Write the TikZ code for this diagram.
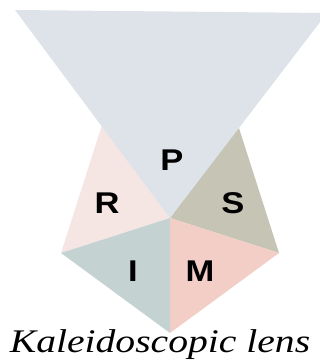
\documentclass[tikz,border=0pt]{standalone}
\usepackage{fontspec}
\setmainfont{Liberation Serif}
\newfontfamily\letterfont{Liberation Sans}
\usepackage{graphicx}
\definecolor{colP}{RGB}{221,227,233}
\definecolor{colR}{RGB}{245,230,228}
\definecolor{colS}{RGB}{197,196,181}
\definecolor{colI}{RGB}{196,210,210}
\definecolor{colM}{RGB}{242,206,198}

\begin{document}
\begin{tikzpicture}[x=1pt,y=-1pt,
   letter/.style={inner sep=0pt,font=\letterfont\bfseries\fontsize{30}{30}\selectfont},
   caption/.style={inner sep=0pt,anchor=base,font=\itshape\fontsize{33}{33}\selectfont}]
  \useasboundingbox (0,0) rectangle (320,362);
  % pentagon corners and centre
  \coordinate (c) at (170,218);
  \coordinate (v1) at (102,125);
  \coordinate (v2) at (238,125);
  \coordinate (v3) at (279,253);
  \coordinate (v4) at (170,333);
  \coordinate (v5) at (61,253);
  \coordinate (tl) at (15,10);
  \coordinate (tr) at (327,13);
  \fill[colR] (c)--(v5)--(v1)--cycle;
  \fill[colS] (c)--(v2)--(v3)--cycle;
  \fill[colM] (c)--(v3)--(v4)--cycle;
  \fill[colI] (c)--(v4)--(v5)--cycle;
  \fill[colP] (c)--(tl)--(tr)--cycle;
  \node[letter] (p) at (172,160) {\scalebox{1.15}[1]{P}};
  \node[letter] (r) at (107,203) {\scalebox{1.15}[1]{R}};
  \node[letter] (s) at (233,203) {\scalebox{1.15}[1]{S}};
  \node[letter] (i) at (133,271) {\scalebox{1.15}[1]{I}};
  \node[letter] (m) at (200,271) {\scalebox{1.15}[1]{M}};
  \node[caption] (lens) at (160,352) {\scalebox{1.2}[1]{Kaleidoscopic lens}};
\end{tikzpicture}
\end{document}
